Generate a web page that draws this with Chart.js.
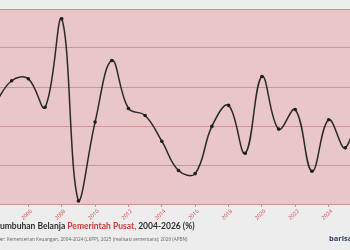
<!DOCTYPE html>
<html>
<head>
<meta charset="utf-8">
<script src="https://cdn.jsdelivr.net/npm/chart.js@4"></script>
<style>
  html, body { margin: 0; padding: 0; }
  body { width: 350px; height: 250px; overflow: hidden; position: relative; background: #ededed; font-family: "Open Sans", sans-serif; }
  #wrap { position: absolute; left: -5px; top: 0; width: 367px; height: 250px; }
  #title { position: absolute; left: -16px; top: 221px; font-family: Lato, sans-serif; font-size: 8.5px; font-weight: 700; color: #2e2e2e; white-space: nowrap; }
  #title .red { color: #c8383c; }
  #source { position: absolute; left: -13px; top: 236px; font-size: 4.7px; color: #666; white-space: nowrap; }
  #logo { position: absolute; left: 329px; top: 233px; font-size: 7.5px; font-weight: 700; color: #33415f; white-space: nowrap; }
</style>
</head>
<body>
<div id="wrap"><canvas id="chart" width="367" height="250"></canvas></div>
<div id="title">Pertumbuhan Belanja <span class="red">Pemerintah Pusat,</span> 2004-2026 (%)</div>
<div id="source">Sumber: Kementerian Keuangan, 2004-2024 (LKPP), 2025 (realisasi sementara); 2026 (APBN)</div>
<div id="logo">barisan.co</div>
<script>
// tahun dan pertumbuhan belanja pemerintah pusat (%)
const years = [2004, 2005, 2006, 2007, 2008, 2009, 2010, 2011, 2012, 2013, 2014, 2015,
               2016, 2017, 2018, 2019, 2020, 2021, 2022, 2023, 2024, 2025, 2026];
const growth = [15.7, 21.6, 22.1, 14.8, 37.5, -9.2, 11.0, 26.8, 14.5, 12.7, 6.1, -1.4,
                -2.2, 9.9, 15.3, 3.0, 22.7, 9.2, 14.2, -1.6, 11.6, 4.4, 20.2];
const yTicks = [-10, 0, 10, 20, 30, 40];

const plotBg = {
    id: 'plotBg',
    beforeDraw(chart) {
        const { ctx, chartArea: a } = chart;
        ctx.save();
        ctx.fillStyle = '#e9c6c7';
        ctx.fillRect(a.left, a.top, a.right - a.left, a.bottom - a.top);
        ctx.restore();
    }
};

new Chart(document.getElementById('chart'), {
    type: 'line',
    data: {
        datasets: [{
            data: years.map((yr, i) => ({ x: yr, y: growth[i] })),
            borderColor: '#2a2a2a',
            borderWidth: 1.5,
            tension: 0.4,
            pointRadius: 1.8,
            pointBackgroundColor: '#1e1e1e',
            pointBorderWidth: 0
        }]
    },
    options: {
        responsive: false,
        animation: false,
        devicePixelRatio: 1,
        layout: { autoPadding: false, padding: { top: 9, left: 0, right: 0, bottom: 0 } },
        plugins: { legend: { display: false }, tooltip: { enabled: false } },
        scales: {
            x: {
                type: 'linear',
                min: years[0],
                max: years[years.length - 1],
                afterFit: s => { s.height = 46; s.paddingLeft = 0; s.paddingRight = 0; },
                afterBuildTicks: s => { s.ticks = years.filter(y => y % 2 === 0).map(v => ({ value: v })); },
                border: { display: false },
                grid: { drawOnChartArea: false, tickLength: 3, tickColor: '#c98f93' },
                ticks: {
                    autoSkip: false,
                    minRotation: 45,
                    maxRotation: 45,
                    labelOffset: 3,
                    padding: 1,
                    color: '#c0505a',
                    font: { family: 'Open Sans', size: 5.5 },
                    callback: v => String(v)
                }
            },
            y: {
                min: yTicks[0],
                max: yTicks[yTicks.length - 1],
                afterFit: s => { s.width = 0; s.paddingTop = 0; s.paddingBottom = 0; },
                afterBuildTicks: s => { s.ticks = yTicks.map(v => ({ value: v })); },
                border: { display: false },
                grid: { color: '#c9979a', lineWidth: 1, drawTicks: false },
                ticks: { display: false }
            }
        }
    },
    plugins: [plotBg]
});
</script>
</body>
</html>
